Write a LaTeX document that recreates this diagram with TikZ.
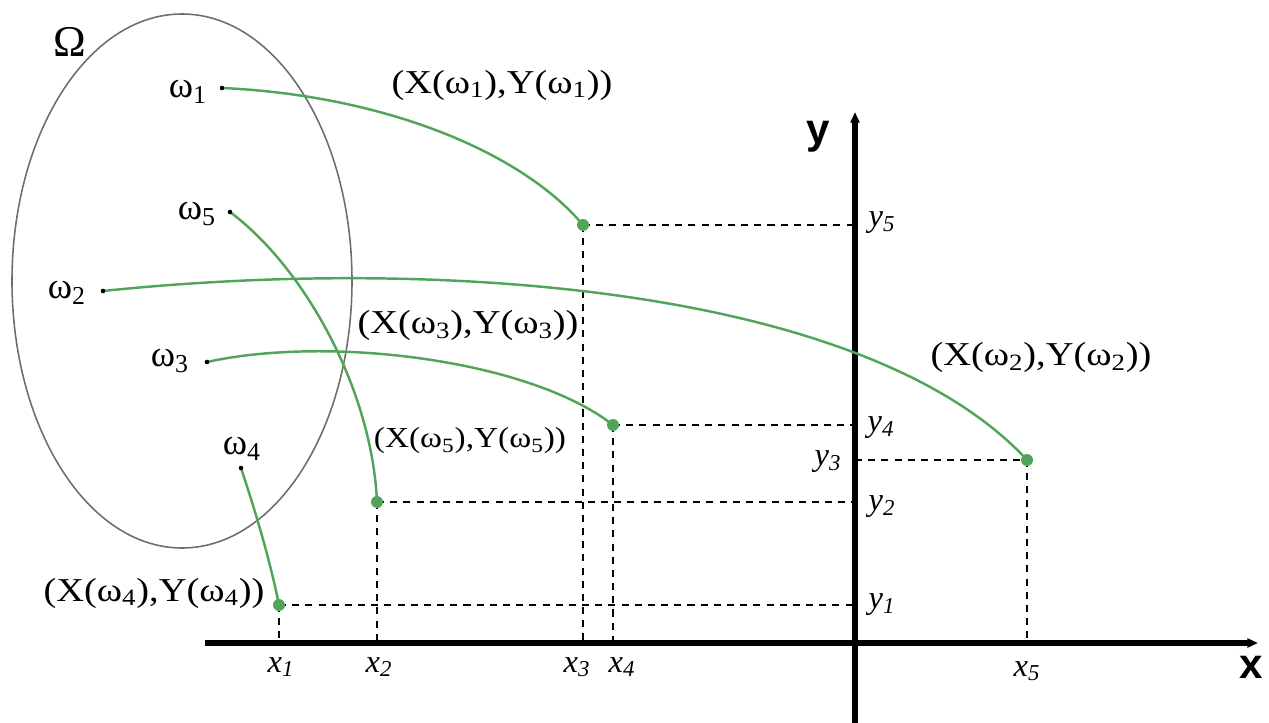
\documentclass[tikz,border=0pt]{standalone}
\usepackage{fontspec}
\setmainfont{Liberation Serif}
\newfontfamily\labfont[FakeStretch=1.15]{Liberation Serif}
\newfontfamily\axfont{Liberation Sans}
\usetikzlibrary{arrows.meta}
\definecolor{mapgreen}{RGB}{80,165,90}
\definecolor{setgray}{RGB}{110,110,110}
\begin{document}
\begin{tikzpicture}[x=0.02cm,y=-0.02cm,
  lab/.style={font=\labfont\fontsize{19}{20}\selectfont, inner sep=0pt},
  labsmall/.style={font=\labfont\fontsize{16.5}{18}\selectfont, inner sep=0pt},
  om/.style={font=\fontsize{21}{22}\selectfont, inner sep=0pt},
  bigom/.style={font=\fontsize{25}{26}\selectfont, inner sep=0pt},
  ticklab/.style={font=\itshape\fontsize{18.5}{20}\selectfont, inner sep=0pt},
  axlab/.style={font=\axfont\bfseries\fontsize{24}{26}\selectfont, inner sep=0pt},
  map/.style={draw=mapgreen, line width=1.4pt},
  guide/.style={line width=1pt, dash pattern=on 4pt off 3.5pt},
  axisline/.style={line width=3.2pt},
  img/.style={fill=mapgreen},
  src/.style={fill=black}
]
\useasboundingbox (0,0) rectangle (1269,723);
% set Omega
\draw[setgray, line width=0.9pt] (182,281) ellipse [x radius=170, y radius=267];
\node[bigom] (Om) at (70,42) {Ω};
% source points
\coordinate (w1) at (222,88);
\coordinate (w5) at (230,212);
\coordinate (w2) at (103,291);
\coordinate (w3) at (207,362);
\coordinate (w4) at (241,468);
\node[om] (lw1) at (188,92) {ω\textsubscript{1}};
\node[om] (lw5) at (197,214) {ω\textsubscript{5}};
\node[om] (lw2) at (67,293) {ω\textsubscript{2}};
\node[om] (lw3) at (170,361) {ω\textsubscript{3}};
\node[om] (lw4) at (242,449) {ω\textsubscript{4}};
% image points
\coordinate (P1) at (583,225);
\coordinate (P2) at (1027,460);
\coordinate (P3) at (613,425);
\coordinate (P4) at (279,605);
\coordinate (P5) at (377,502);
% axes
\coordinate (O) at (855,643);
\coordinate (xl) at (205,643);
\coordinate (xr) at (1258,643);
\coordinate (yt) at (855,112);
\coordinate (yb) at (855,723);
% guides
\foreach \p in {P1,P3,P4,P5}{
  \draw[guide] (\p) -- (\p -| O);
  \draw[guide] (\p) -- (\p |- O);
}
\draw[guide] (P2 -| O) -- (P2);
\draw[guide] (P2) -- (P2 |- O);
\draw[axisline, -{Triangle[length=6pt,width=5pt]}] (xl) -- (xr);
\draw[axisline, -{Triangle[length=6pt,width=5pt]}] (yb) -- (yt);
\node[axlab] (ylab) at (818,137) {y};
\node[axlab] (xlab) at (1251,667) {x};
% maps
\draw[map] (w1) .. controls (380,95) and (520,150) .. (P1);
\draw[map] (w2) .. controls (450,255) and (870,290) .. (P2);
\draw[map] (w3) .. controls (330,335) and (530,360) .. (P3);
\draw[map] (w5) .. controls (305,268) and (372,390) .. (P5);
\draw[map] (w4) .. controls (255,510) and (270,560) .. (P4);
\foreach \p in {P1,P2,P3,P4,P5}{ \fill[img] (\p) circle [radius=6]; }
\foreach \p in {w1,w2,w3,w4,w5}{ \fill[src] (\p) circle [radius=2.3]; }
% point labels
\node[lab] (L1) at (502,85) {(X(ω\textsubscript{1}),Y(ω\textsubscript{1}))};
\node[lab] (L3) at (468,325) {(X(ω\textsubscript{3}),Y(ω\textsubscript{3}))};
\node[labsmall] (L5) at (470,441) {(X(ω\textsubscript{5}),Y(ω\textsubscript{5}))};
\node[lab] (L2) at (1041,357) {(X(ω\textsubscript{2}),Y(ω\textsubscript{2}))};
\node[lab] (L4) at (154,593) {(X(ω\textsubscript{4}),Y(ω\textsubscript{4}))};
% tick labels
\node[ticklab] (y5) at (882,223) {y\textsubscript{5}};
\node[ticklab] (y4) at (881,428) {y\textsubscript{4}};
\node[ticklab] (y3) at (828,462) {y\textsubscript{3}};
\node[ticklab] (y2) at (882,507) {y\textsubscript{2}};
\node[ticklab] (y1) at (882,605) {y\textsubscript{1}};
\node[ticklab] (x1) at (281,667) {x\textsubscript{1}};
\node[ticklab] (x2) at (379,667) {x\textsubscript{2}};
\node[ticklab] (x3) at (577,667) {x\textsubscript{3}};
\node[ticklab] (x4) at (622,667) {x\textsubscript{4}};
\node[ticklab] (x5) at (1027,671) {x\textsubscript{5}};
\end{tikzpicture}
\end{document}
